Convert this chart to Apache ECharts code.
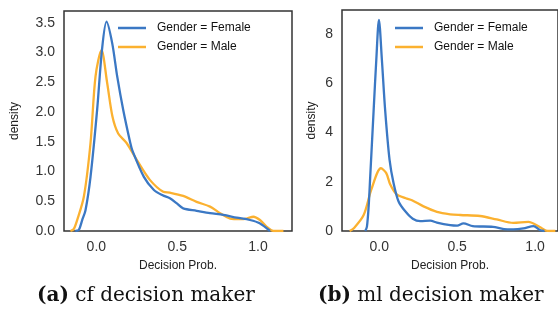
<!DOCTYPE html>
<html>
<head>
<meta charset="utf-8">
<script src="https://cdn.jsdelivr.net/npm/echarts@6/dist/echarts.min.js"></script>
<style>
  html, body { margin: 0; padding: 0; background: #fff; }
</style>
</head>
<body>
<div id="chart" style="width: 558px; height: 320px;"></div>
<script>
// 数据 (density curves)
const seriesNames = ["Gender = Female", "Gender = Male"];

// (a) cf decision maker
const cfFemaleX = [-0.13, -0.108, -0.088, -0.067, -0.036, 0.005, 0.035, 0.063, 0.098, 0.129, 0.166, 0.21, 0.222, 0.294, 0.356, 0.41, 0.455, 0.5, 0.537, 0.62, 0.703, 0.785, 0.868, 0.95, 1.01, 1.074];
const cfFemaleY = [0, 0.02, 0.18, 0.35, 0.91, 2.04, 3.05, 3.52, 3.16, 2.6, 2.04, 1.48, 1.36, 0.91, 0.69, 0.6, 0.55, 0.46, 0.38, 0.34, 0.3, 0.27, 0.225, 0.185, 0.13, 0];
const cfMaleX = [-0.16, -0.14, -0.119, -0.077, -0.036, -0.005, 0.032, 0.067, 0.1, 0.135, 0.187, 0.249, 0.331, 0.414, 0.455, 0.537, 0.62, 0.703, 0.765, 0.827, 0.889, 0.93, 0.971, 1.012, 1.054, 1.095, 1.157];
const cfMaleY = [0, 0.03, 0.18, 0.58, 1.48, 2.6, 3.04, 2.49, 1.92, 1.64, 1.48, 1.2, 0.86, 0.66, 0.645, 0.59, 0.49, 0.41, 0.3, 0.21, 0.2, 0.21, 0.24, 0.185, 0.07, 0, 0];

// (b) ml decision maker
const mlFemaleX = [-0.09, -0.079, -0.068, -0.058, -0.036, -0.019, -0.002, 0.017, 0.038, 0.066, 0.092, 0.124, 0.167, 0.215, 0.263, 0.327, 0.37, 0.455, 0.5, 0.54, 0.6, 0.73, 0.8, 0.86, 0.925, 0.99, 1.03, 1.06];
const mlFemaleY = [0, 0.18, 1.0, 2.2, 4.9, 6.95, 8.58, 6.95, 4.9, 2.9, 1.94, 1.2, 0.8, 0.5, 0.4, 0.42, 0.34, 0.24, 0.22, 0.31, 0.2, 0.17, 0.08, 0.07, 0.11, 0.2, 0.04, 0];
const mlMaleX = [-0.19, -0.165, -0.1, -0.05, 0.011, 0.045, 0.07, 0.11, 0.17, 0.21, 0.284, 0.37, 0.455, 0.52, 0.647, 0.754, 0.86, 0.957, 1.03, 1.07, 1.13];
const mlMaleY = [0, 0.1, 0.65, 1.7, 2.55, 2.35, 1.9, 1.5, 1.33, 1.25, 1.0, 0.78, 0.68, 0.65, 0.61, 0.47, 0.33, 0.37, 0.16, 0.02, 0];

// 刻度
const xTicks = [0, 0.5, 1.0];
const cfYTicks = [0, 0.5, 1.0, 1.5, 2.0, 2.5, 3.0, 3.5];
const mlYTicks = [0, 2, 4, 6, 8];

const captions = ["{b|(a)} cf decision maker", "{b|(b)} ml decision maker"];

const blue = "#3b78c4";
const orange = "#fbb130";
const sans = "Liberation Sans";
const serif = "DejaVu Serif";

const pairs = (xs, ys) => xs.map((x, i) => [x, ys[i]]);

const makeXAxis = (gridIndex, min, max) => ({
    type: "value",
    gridIndex,
    min,
    max,
    name: "Decision Prob.",
    nameLocation: "middle",
    nameGap: 29,
    nameTextStyle: { fontFamily: sans, fontSize: 12, color: "#222" },
    axisLine: { show: false },
    axisTick: { show: false },
    splitLine: { show: false },
    axisLabel: {
        customValues: xTicks,
        formatter: (v) => v.toFixed(1),
        margin: 9,
        fontFamily: sans,
        fontSize: 14,
        color: "#333",
    },
});

const makeYAxis = (gridIndex, max, ticks, digits, nameGap) => ({
    type: "value",
    gridIndex,
    min: 0,
    max,
    name: "density",
    nameLocation: "middle",
    nameGap,
    nameTextStyle: { fontFamily: sans, fontSize: 12, color: "#222" },
    axisLine: { show: false },
    axisTick: { show: false },
    splitLine: { show: false },
    axisLabel: {
        customValues: ticks,
        formatter: (v) => v.toFixed(digits),
        margin: 9,
        fontFamily: sans,
        fontSize: 14,
        color: "#333",
    },
});

const makeLine = (name, data, color, idx) => ({
    name,
    type: "line",
    xAxisIndex: idx,
    yAxisIndex: idx,
    data,
    smooth: 0.3,
    showSymbol: false,
    symbol: "none",
    color,
    lineStyle: { width: 2.3, color },
    z: name === seriesNames[0] ? 3 : 2,
});

const makeLegend = (left, top) => ({
    orient: "vertical",
    left,
    top,
    padding: 0,
    icon: "rect",
    itemWidth: 28,
    itemHeight: 2.5,
    itemGap: 7,
    textStyle: { fontFamily: sans, fontSize: 12, color: "#111", padding: [0, 0, 0, 6] },
    data: seriesNames,
});

const chart = echarts.init(document.getElementById("chart"));

const option = {
    animation: false,
    backgroundColor: "#fff",
    title: captions.map((text, i) => ({
        text,
        left: i === 0 ? 37 : 318,
        top: 286,
        padding: 0,
        textStyle: {
            fontFamily: serif,
            fontSize: 20,
            fontWeight: "normal",
            color: "#111",
            rich: {
                b: { fontFamily: serif, fontSize: 20, fontWeight: "bold", color: "#111" },
            },
        },
    })),
    legend: [makeLegend(118, 22), makeLegend(395, 22)],
    grid: [
        { left: 64, top: 11, width: 228, height: 220, show: true, borderColor: "#333", borderWidth: 1.5, backgroundColor: "transparent" },
        // the right panel is cut off by the picture edge
        { left: 342, top: 10, width: 216, height: 221, show: true, borderColor: "#333", borderWidth: 1.5, backgroundColor: "transparent" },
    ],
    xAxis: [makeXAxis(0, -0.2, 1.21), makeXAxis(1, -0.239, 1.147)],
    yAxis: [makeYAxis(0, 3.7, cfYTicks, 1, 43), makeYAxis(1, 8.98, mlYTicks, 0, 24)],
    series: [
        makeLine(seriesNames[0], pairs(cfFemaleX, cfFemaleY), blue, 0),
        makeLine(seriesNames[1], pairs(cfMaleX, cfMaleY), orange, 0),
        makeLine(seriesNames[0], pairs(mlFemaleX, mlFemaleY), blue, 1),
        makeLine(seriesNames[1], pairs(mlMaleX, mlMaleY), orange, 1),
    ],
};

chart.setOption(option);
</script>
</body>
</html>
